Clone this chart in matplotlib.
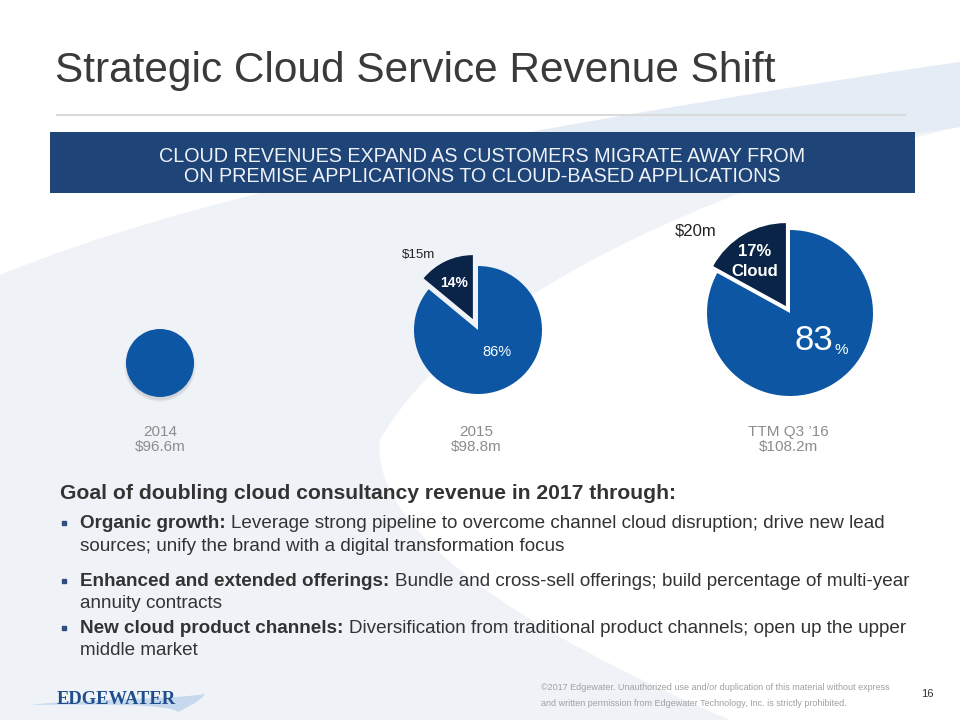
import numpy as np
import matplotlib.pyplot as plt
from matplotlib.patches import Rectangle, PathPatch, Circle
from matplotlib.path import Path

plt.rcParams['font.family'] = ['Liberation Sans', 'DejaVu Sans']

# ---- data ----
years = ['2014', '2015', 'TTM Q3 \u201916']
totals = ['$96.6m', '$98.8m', '$108.2m']
cloud_pct = [0, 14, 17]
cloud_rev = ['', '$15m', '$20m']

title = 'Strategic Cloud Service Revenue Shift'
banner = ['CLOUD REVENUES EXPAND AS CUSTOMERS MIGRATE AWAY FROM',
          'ON PREMISE APPLICATIONS TO CLOUD-BASED APPLICATIONS']
goal = 'Goal of doubling cloud consultancy revenue in 2017 through:'
bullet_heads = ['Organic growth:', 'Enhanced and extended offerings:', 'New cloud product channels:']
bullet_lines = [
    ['Leverage strong pipeline to overcome channel cloud disruption; drive new lead',
     'sources; unify the brand with a digital transformation focus'],
    ['Bundle and cross-sell offerings; build percentage of multi-year',
     'annuity contracts'],
    ['Diversification from traditional product channels; open up the upper',
     'middle market'],
]
footer = ['\u00a92017 Edgewater. Unauthorized use and/or duplication of this material without express',
          'and written permission from Edgewater Technology, Inc. is strictly prohibited.']

# ---- colours / layout (pixel coords, y measured from top) ----
BLUE = '#0C56A3'
NAVY = '#0A2448'
BANNER = '#1F4478'
H = 720

def Y(y):
    return H - y

fig = plt.figure(figsize=(9.6, 7.2), dpi=100)
ax = fig.add_axes([0, 0, 1, 1])

# background swoosh
verts = [(0, 275), (180, 200), (500, 130), (960, 62),
         (960, 127),
         (780, 165), (470, 280), (380, 440),
         (370, 530), (520, 630), (730, 720),
         (0, 720), (0, 275)]
codes = [Path.MOVETO, Path.CURVE4, Path.CURVE4, Path.CURVE4,
         Path.LINETO,
         Path.CURVE4, Path.CURVE4, Path.CURVE4,
         Path.CURVE4, Path.CURVE4, Path.CURVE4,
         Path.LINETO, Path.CLOSEPOLY]
bg = Path([(x, Y(y)) for x, y in verts], codes)
ax.add_patch(PathPatch(bg, facecolor='#EFF3F8', edgecolor='none', zorder=0))
# slightly stronger tint in the upper-right band (mostly hidden by the banner)
band = [(480, 141), (650, 110), (800, 85), (960, 62),
        (960, 127), (800, 150), (650, 170), (480, 185), (480, 141)]
bcodes = [Path.MOVETO, Path.CURVE4, Path.CURVE4, Path.CURVE4,
          Path.LINETO, Path.CURVE4, Path.CURVE4, Path.CURVE4, Path.CLOSEPOLY]
ax.add_patch(PathPatch(Path([(x, Y(y)) for x, y in band], bcodes),
                       facecolor='#E4ECF5', edgecolor='none', zorder=0))

# title + rule
ax.text(55, Y(82), title, fontsize=30.5, color='#3A3A3A', va='baseline', ha='left')
ax.plot([57, 905], [Y(115), Y(115)], color='#DADADA', lw=1.5)

# banner
ax.add_patch(Rectangle((50, Y(193)), 865, 61, facecolor=BANNER, edgecolor='none', zorder=2))
ax.text(482, Y(157), banner[0], fontsize=14.2, color='#EEF2F7', ha='center', va='center', zorder=3)
ax.text(482, Y(176), banner[1], fontsize=14.2, color='#EEF2F7', ha='center', va='center', zorder=3)

# pies
centers = [(160, 363), (478, 330), (790, 313)]
radii = [34, 64, 83]
explodes = [0, 12, 8]
for i, pct in enumerate(cloud_pct):
    cx, cy = centers[i]
    if pct == 0:
        # plain circle with a soft shadow
        for k, a in enumerate([0.05, 0.07, 0.09]):
            ax.add_patch(Circle((cx, Y(cy + 3)), radii[i] + 2 - k, color='#666666', alpha=a, lw=0, zorder=2))
        ax.pie([100 - pct], colors=[BLUE], startangle=90, center=(cx, Y(cy)),
               radius=radii[i], frame=True, wedgeprops=dict(linewidth=0, zorder=3))
    else:
        ax.pie([pct, 100 - pct], colors=[NAVY, BLUE], explode=[explodes[i], 0],
               startangle=90, counterclock=True, center=(cx, Y(cy)),
               radius=radii[i], frame=True, wedgeprops=dict(linewidth=0))

# pie labels
ax.text(419, Y(255), cloud_rev[1], fontsize=9.5, color='#222222', ha='center', va='center')
ax.text(454, Y(283), '%d%%' % cloud_pct[1], fontsize=10, color='white', weight='bold', ha='center', va='center')
ax.text(497, Y(352), '%d%%' % (100 - cloud_pct[1]), fontsize=10.5, color='white', ha='center', va='center')
ax.text(696, Y(231), cloud_rev[2], fontsize=12, color='#222222', ha='center', va='center')
ax.text(755, Y(252), '%d%%' % cloud_pct[2], fontsize=12, color='white', weight='bold', ha='center', va='center')
ax.text(755, Y(271), 'Cloud', fontsize=12, color='white', weight='bold', ha='center', va='center')
big = ax.text(833, Y(350), '%d' % (100 - cloud_pct[2]), fontsize=25, color='white', ha='right', va='baseline')
ax.annotate('%', xy=(1, 0), xycoords=big, xytext=(1, 0), textcoords='offset points',
            fontsize=11, color='white', ha='left', va='bottom')

# year / total labels
for i in range(len(years)):
    dx = 0 if i == 0 else -2
    ax.text(centers[i][0] + dx, Y(432), years[i], fontsize=11, color='#8C8C8C', ha='center', va='center')
    ax.text(centers[i][0] + dx, Y(447), totals[i], fontsize=11, color='#8C8C8C', ha='center', va='center')

# goal + bullets
ax.text(60, Y(499), goal, fontsize=15.2, weight='bold', color='#333333', ha='left', va='baseline')
line_y = [[528, 551], [586, 608], [633, 655]]
for i, head in enumerate(bullet_heads):
    ax.plot([64], [Y(line_y[i][0] - 5)], marker='s', ms=3.5, color='#2E4E7E', lw=0)
    hd = ax.text(80, Y(line_y[i][0]), head, fontsize=13.6, weight='bold', color='#333333', ha='left', va='baseline')
    ax.annotate(bullet_lines[i][0], xy=(1, 0), xycoords=hd, xytext=(4, 0), textcoords='offset points',
                fontsize=13.6, color='#333333', ha='left', va='bottom')
    ax.text(80, Y(line_y[i][1]), bullet_lines[i][1], fontsize=13.6, color='#333333', ha='left', va='baseline')

# footer logo
sw = [(30, 705), (90, 698), (170, 700), (205, 694),
      (200, 702), (185, 708), (178, 712),
      (170, 704), (100, 704), (30, 705)]
sc = [Path.MOVETO, Path.CURVE4, Path.CURVE4, Path.CURVE4,
      Path.CURVE4, Path.CURVE4, Path.CURVE4,
      Path.CURVE4, Path.CURVE4, Path.CURVE4]
ax.add_patch(PathPatch(Path([(x, Y(y)) for x, y in sw], sc), facecolor='#C6D8EE', edgecolor='none', zorder=1))
ax.text(57, Y(704), 'EDGEWATER', fontsize=13.3, family='Liberation Serif', weight='bold',
        color='#1F4E8C', ha='left', va='baseline', zorder=2)

ax.text(541, Y(688), footer[0], fontsize=6.5, color='#A0A0A0', ha='left', va='center')
ax.text(541, Y(703), footer[1], fontsize=6.5, color='#A0A0A0', ha='left', va='center')
ax.text(927, Y(694), '16', fontsize=8, color='#333333', ha='center', va='center')

ax.set_xlim(0, 960)
ax.set_ylim(0, H)
ax.set_aspect('auto')
ax.axis('off')

fig.savefig('out.png', dpi=100, facecolor='white')
